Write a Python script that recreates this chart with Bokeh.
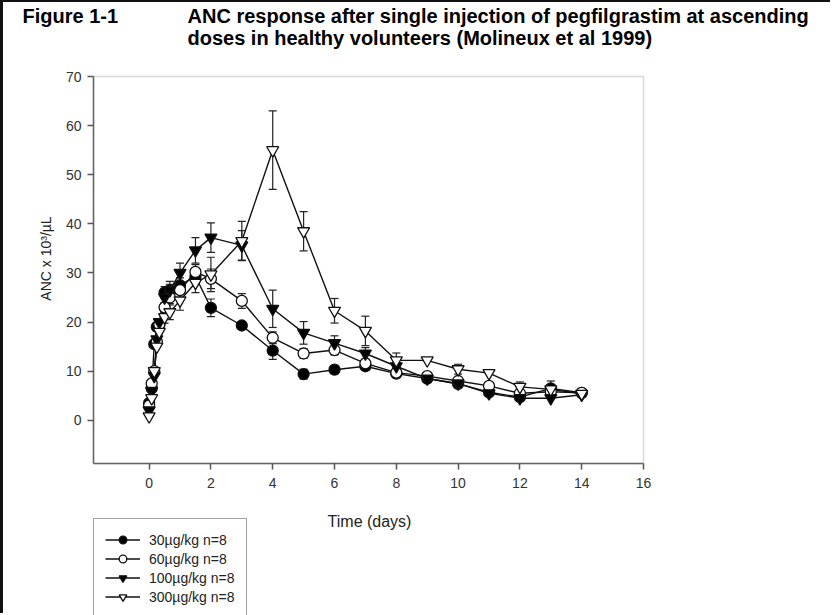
import math
from bokeh.plotting import figure
from bokeh.models import (ColumnDataSource, Whisker, TeeHead, Legend, LegendItem,
                          Label, Range1d, FixedTicker, BoxAnnotation, LinearAxis)
from bokeh.embed import file_html
from bokeh.resources import INLINE

# ---- data ----
days = [0, 0.083, 0.167, 0.25, 0.33, 0.5, 0.67, 1, 1.5, 2,
        3, 4, 5, 6, 7, 8, 9, 10, 11, 12, 13, 14]

anc_30 = [3.5, 6.5, 15.5, 19.0, 19.5, 26.0, 26.5, 27.5, 29.3, 22.9,
          19.3, 14.2, 9.4, 10.3, 11.0, 9.5, 8.5, 7.4, 5.7, 4.7, 6.5, 5.6]
err_30 = [0, 0, 0, 0, 0, 1.2, 1.2, 1.5, 1.2, 1.8,
          0.8, 1.8, 1.0, 0.8, 0.8, 0.6, 0, 0, 0, 0, 1.5, 0]

anc_60 = [3.0, 7.5, 10.0, 16.0, 19.5, 23.0, 25.0, 26.5, 30.2, 28.8,
          24.3, 16.8, 13.6, 14.3, 11.6, 9.7, 9.0, 8.0, 7.0, 5.5, 5.8, 5.6]
err_60 = [0, 0, 0, 0, 0, 1.0, 1.2, 1.5, 1.5, 2.0,
          1.5, 1.2, 1.0, 1.0, 0.8, 0, 0, 0, 0, 0, 0, 0]

anc_100 = [2.0, 6.0, 9.0, 16.5, 20.0, 25.0, 26.5, 30.0, 34.6, 37.2,
           35.6, 22.7, 17.8, 15.7, 13.6, 11.0, 8.5, 7.5, 5.5, 4.5, 4.5, 5.2]
err_100 = [0, 0, 0, 0, 0, 1.5, 1.8, 2.0, 2.6, 3.0,
           3.0, 3.8, 2.3, 1.5, 1.2, 0.8, 0, 0, 0, 0, 0, 0]

anc_300 = [0.8, 4.5, 10.0, 15.0, 18.0, 21.0, 22.0, 24.4, 28.0, 29.7,
           36.5, 55.0, 38.5, 22.3, 18.2, 12.2, 12.2, 10.4, 9.6, 6.8, 6.3, 5.4]
err_300 = [0, 0, 0, 0, 0, 1.2, 1.5, 2.0, 2.0, 3.5,
           4.0, 8.0, 4.0, 2.5, 3.0, 1.5, 0, 1.0, 0, 1.0, 0, 0]

series_labels = ["30µg/kg n=8", "60µg/kg n=8", "100µg/kg n=8", "300µg/kg n=8"]
x_ticks = [0, 2, 4, 6, 8, 10, 12, 14, 16]
y_ticks = [0, 10, 20, 30, 40, 50, 60, 70]
fig_label = "Figure 1-1"
title_line1 = "ANC response after single injection of pegfilgrastim at ascending"
title_line2 = "doses in healthy volunteers (Molineux et al 1999)"
x_title = "Time (days)"
y_title = "ANC x 10³/µL"

FONT = "Liberation Sans"

# ---- layout: the drawing area is the whole page; the plot box sits inside it ----
W, H = 830, 613                  # canvas (page minus the 3px/2px page rules)
X0, X1 = -1.8, 16                # plot box extent in data units
Y0, Y1 = -8.8, 70
BOX_L, BOX_T, BOX_W, BOX_H = 90, 74, 550, 387   # plot box in canvas pixels
sx = BOX_W / (X1 - X0)
sy = BOX_H / (Y1 - Y0)
x_start = X0 - BOX_L / sx
y_end = Y1 + BOX_T / sy


def cx(px):
    return x_start + px / sx


def cy(py):
    return y_end - py / sy


p = figure(width=W, height=H, output_backend="svg", toolbar_location=None,
           x_range=Range1d(x_start, x_start + W / sx),
           y_range=Range1d(y_end - H / sy, y_end),
           min_border=0, x_axis_location=None, y_axis_location=None)
p.styles = {"border-left": "3px solid #111", "border-top": "2px solid #111"}
p.background_fill_color = "white"
p.border_fill_color = "white"
p.grid.visible = False
p.outline_line_color = None

xaxis = LinearAxis(fixed_location=Y0, bounds=(X0, X1))
yaxis = LinearAxis(fixed_location=X0, bounds=(Y0, Y1))
p.add_layout(xaxis, "below")
p.add_layout(yaxis, "left")

p.add_layout(BoxAnnotation(left=X0, right=X1, bottom=Y0, top=Y1, fill_color=None,
                           fill_alpha=0, line_color="#808080", line_width=1.5,
                           level="underlay"))

for ax, ticks in ((xaxis, x_ticks), (yaxis, y_ticks)):
    ax.ticker = FixedTicker(ticks=ticks)
    ax.minor_tick_line_color = None
    ax.major_tick_in = 0
    ax.major_tick_out = 6
    ax.major_tick_line_color = "#555555"
    ax.major_tick_line_width = 1.5
    ax.axis_line_color = "#666666"
    ax.axis_line_width = 1.5
    ax.major_label_text_font = FONT
    ax.major_label_text_font_size = "14px"
    ax.major_label_text_color = "#333333"
xaxis.major_label_standoff = 8
yaxis.major_label_standoff = 6

all_vals = [anc_30, anc_60, anc_100, anc_300]
all_errs = [err_30, err_60, err_100, err_300]
markers = ["circle", "circle", "inverted_triangle", "inverted_triangle"]
fills = ["black", "white", "black", "white"]
sizes = [11, 11, 12, 12]

line_rs = []
for vals in all_vals:
    src = ColumnDataSource(dict(x=days, y=vals))
    line_rs.append(p.line("x", "y", source=src, line_color="#111111", line_width=1.4))

for vals, errs in zip(all_vals, all_errs):
    xs = [d for d, e in zip(days, errs) if e > 0]
    up = [v + e for v, e in zip(vals, errs) if e > 0]
    lo = [v - e for v, e in zip(vals, errs) if e > 0]
    wsrc = ColumnDataSource(dict(base=xs, upper=up, lower=lo))
    w = Whisker(base="base", upper="upper", lower="lower", source=wsrc,
                line_color="#222222", line_width=1.2,
                upper_head=TeeHead(size=8, line_color="#222222", line_width=1.2),
                lower_head=TeeHead(size=8, line_color="#222222", line_width=1.2))
    p.add_layout(w)

mark_rs = []
for vals, m, f, s in zip(all_vals, markers, fills, sizes):
    src = ColumnDataSource(dict(x=days, y=vals))
    mark_rs.append(p.scatter("x", "y", source=src, marker=m, size=s, fill_color=f,
                             line_color="#111111", line_width=1.3))

items = [LegendItem(label=lab, renderers=[lr, mr])
         for lab, lr, mr in zip(series_labels, line_rs, mark_rs)]
legend = Legend(items=items, location=(BOX_L, -3), orientation="vertical",
                padding=11, spacing=0,
                glyph_width=35, glyph_height=19, label_height=19, label_standoff=9,
                label_text_font=FONT, label_text_font_size="14px",
                label_text_color="#222222", border_line_color="#444444",
                border_line_width=1.2, background_fill_alpha=1, margin=0)
p.add_layout(legend, "center")

# axis titles
p.add_layout(Label(x=cx(366), y=cy(519), text=x_title, text_font=FONT,
                   text_font_size="16px", text_color="#222222",
                   text_align="center", text_baseline="middle"))
p.add_layout(Label(x=cx(42), y=cy(256), text=y_title, text_font=FONT,
                   text_font_size="14px", text_color="#222222", angle=math.pi / 2,
                   text_align="center", text_baseline="middle"))

# figure caption
for txt, px, py in ((fig_label, 19, 13), (title_line1, 184, 13), (title_line2, 184, 35)):
    p.add_layout(Label(x=cx(px), y=cy(py), text=txt, text_font=FONT,
                       text_font_style="bold", text_font_size="20px",
                       text_color="black", text_align="left",
                       text_baseline="middle"))

open("out.html", "w").write(file_html(p, INLINE))
